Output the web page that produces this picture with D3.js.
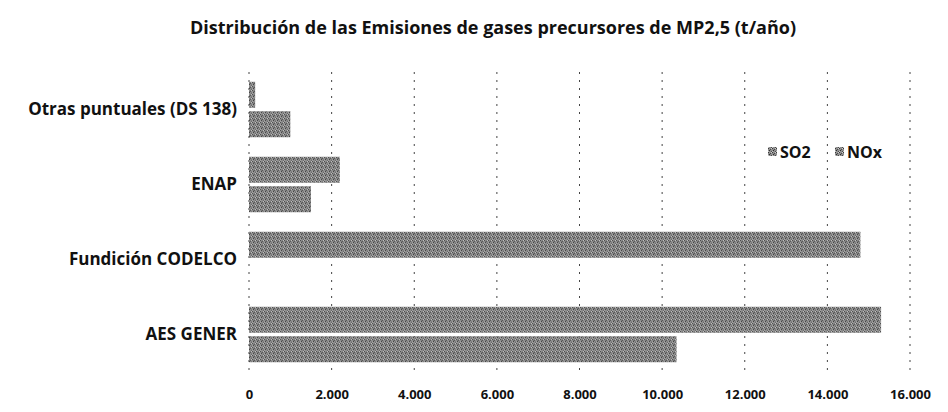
<!DOCTYPE html>
<html><head><meta charset="utf-8">
<script src="https://cdn.jsdelivr.net/npm/d3@7"></script>
<style>body{margin:0;background:#fff}svg{display:block}</style>
</head><body>
<svg id="c" width="948" height="412"></svg>
<script>
const categories = ["Otras puntuales (DS 138)", "ENAP", "Fundición CODELCO", "AES GENER"];
const seriesNames = ["SO2", "NOx"];
const so2 = [150, 2200, 14800, 15300];
const nox = [1000, 1500, 0, 10350];
const tickValues = [0, 2000, 4000, 6000, 8000, 10000, 12000, 14000, 16000];
const tickLabels = ["0", "2.000", "4.000", "6.000", "8.000", "10.000", "12.000", "14.000", "16.000"];
const title = "Distribución de las Emisiones de gases precursores de MP2,5 (t/año)";

const svg = d3.select("#c");
const font = "'Open Sans', sans-serif";
const m = {left: 249, right: 910, top: 72, bottom: 372};

const defs = svg.append("defs");
const pat = defs.append("pattern").attr("id","tex").attr("patternUnits","userSpaceOnUse")
  .attr("width",4).attr("height",4);
pat.append("rect").attr("width",4).attr("height",4).attr("fill","#8e8e8e");
pat.append("rect").attr("x",0).attr("y",0).attr("width",1).attr("height",1).attr("fill","#3a3a3a");
pat.append("rect").attr("x",2).attr("y",1).attr("width",1).attr("height",1).attr("fill","#4a4a4a");
pat.append("rect").attr("x",1).attr("y",2).attr("width",1).attr("height",1).attr("fill","#2e2e2e");
pat.append("rect").attr("x",3).attr("y",3).attr("width",1).attr("height",1).attr("fill","#4a4a4a");
pat.append("rect").attr("x",3).attr("y",0).attr("width",1).attr("height",1).attr("fill","#cfcfcf");
pat.append("rect").attr("x",0).attr("y",3).attr("width",1).attr("height",1).attr("fill","#c4c4c4");

const x = d3.scaleLinear().domain([0,16000]).range([m.left, m.right]);
const y = d3.scaleBand().domain(categories).range([m.top, m.bottom]).paddingInner(0.26).paddingOuter(0.13);
const ys = d3.scaleBand().domain(seriesNames).range([0, y.bandwidth()]).paddingInner(0.12);

// title
svg.append("text").attr("x", 493).attr("y", 34).attr("text-anchor","middle")
  .attr("font-family", font).attr("font-weight", 700).attr("font-size", 18).attr("fill","#111")
  .text(title);

// gridlines
svg.append("g").selectAll("line").data(tickValues).join("line")
  .attr("x1", d=>x(d)).attr("x2", d=>x(d)).attr("y1", m.top).attr("y2", m.bottom)
  .attr("stroke","#444").attr("stroke-width",1).attr("stroke-dasharray","2,6");

// bars
const rows = categories.map((c,i)=>({c, vals:[{s:"SO2", v:so2[i]},{s:"NOx", v:nox[i]}]}));
const g = svg.append("g").selectAll("g").data(rows).join("g")
  .attr("transform", d=>`translate(0,${y(d.c)})`);
g.selectAll("rect").data(d=>d.vals).join("rect")
  .attr("x", x(0)).attr("y", d=>ys(d.s)).attr("height", ys.bandwidth())
  .attr("width", d=>x(d.v)-x(0)).attr("fill","url(#tex)");

// x axis labels
const xAxis = d3.axisBottom(x).tickValues(tickValues).tickFormat((d,i)=>tickLabels[i]).tickSize(0).tickPadding(18);
const ax = svg.append("g").attr("transform",`translate(0,${m.bottom})`).call(xAxis);
ax.select(".domain").remove();
ax.selectAll("text").attr("font-family", font).attr("font-weight",700).attr("font-size",13).attr("fill","#111");

// y axis labels
const yAxis = d3.axisLeft(y).tickSize(0).tickPadding(12);
const ay = svg.append("g").attr("transform",`translate(${m.left},0)`).call(yAxis);
ay.select(".domain").remove();
ay.selectAll("text").attr("font-family", font).attr("font-weight",700).attr("font-size",17).attr("fill","#111");

// legend
const lg = svg.append("g").attr("transform","translate(768,152)");
const li = lg.selectAll("g").data(seriesNames).join("g").attr("transform",(d,i)=>`translate(${i*67},0)`);
li.append("rect").attr("x",0).attr("y",-5).attr("width",9).attr("height",9).attr("fill","url(#tex)");
li.append("text").attr("x",12).attr("y",0).attr("dy","0.35em").attr("font-family",font)
  .attr("font-weight",700).attr("font-size",16).attr("fill","#111").text(d=>d);
</script>
</body></html>
